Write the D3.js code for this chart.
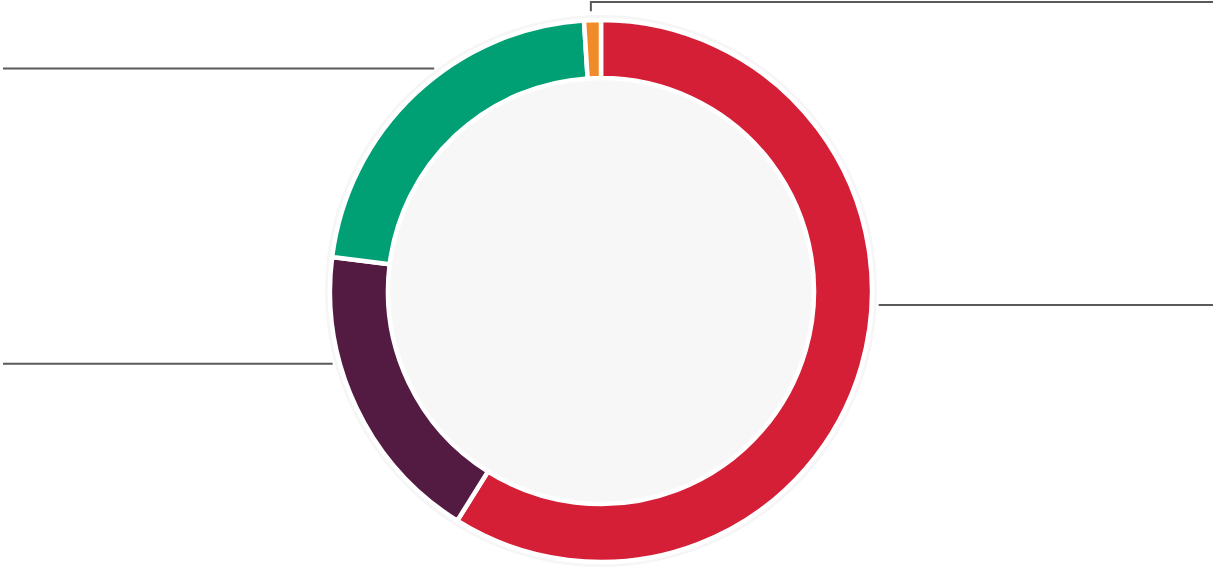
<!DOCTYPE html>
<html>
<head>
    <meta charset="utf-8">
    <title></title>
    <style>
        body { margin: 0; background: #fff; }
    </style>
</head>
<body>

<script src="https://d3js.org/d3.v7.min.js"></script>
<script type="text/javascript">

    // slice names and shares (percent), clockwise from 12 o'clock
    var categories = ["Red", "Purple", "Green", "Orange"];
    var shares     = [58.9, 18.1, 22.0, 1.0];
    var colors     = ["#d41f37", "#531b42", "#00a074", "#f28a2a"];

    var width = 1213, height = 569;
    var cx = 601, cy = 291;
    var outerR = 271, innerR = 213;

    var data = categories.map(function(c, i) {
        return { name: c, value: shares[i], color: colors[i] };
    });

    var svg = d3.select("body")
        .append("svg")
        .attr("width", width)
        .attr("height", height);

    var chart = svg.append("g")
        .attr("transform", "translate(" + cx + "," + cy + ")");

    var pie = d3.pie()
        .sort(null)
        .value(function(d) { return d.value; });

    var arc = d3.arc()
        .innerRadius(innerR)
        .outerRadius(outerR);

    // faint halo round the ring and the grey hole
    chart.append("circle")
        .attr("r", outerR + 5)
        .style("fill", "#f6f6f6");

    chart.append("circle")
        .attr("r", innerR)
        .style("fill", "#f7f7f7");

    var arcs = pie(data);

    chart.selectAll("path.slice")
        .data(arcs)
        .enter()
        .append("path")
        .attr("class", "slice")
        .attr("d", arc)
        .style("fill", function(d) { return d.data.color; })
        .style("stroke", "#fff")
        .style("stroke-width", "4.5px");

    // leader lines, where on each slice they leave the ring
    var leaderAt = [0.438, 0.657, 0.58, 0.42];
    var leaderR = outerR + 7;

    arcs.forEach(function(d, i) {
        var a = d.startAngle + (d.endAngle - d.startAngle) * leaderAt[i];
        var x0 = Math.sin(a) * leaderR,
            y0 = -Math.cos(a) * leaderR;
        var right = Math.sin(a) >= 0;
        var pts;
        if (Math.abs(Math.sin(a)) < 0.1) {
            // slice at the very top: go up to the edge, then across
            var yTop = 2 - cy;
            pts = [[x0, y0 - 2], [x0, yTop], [width - cx, yTop]];
        } else {
            pts = [[x0, y0], [right ? width - cx : 3 - cx, y0]];
        }
        chart.append("path")
            .attr("d", d3.line()(pts))
            .style("fill", "none")
            .style("stroke", "#5a5a5a")
            .style("stroke-width", "2px");
    });

</script>
</body>
</html>
